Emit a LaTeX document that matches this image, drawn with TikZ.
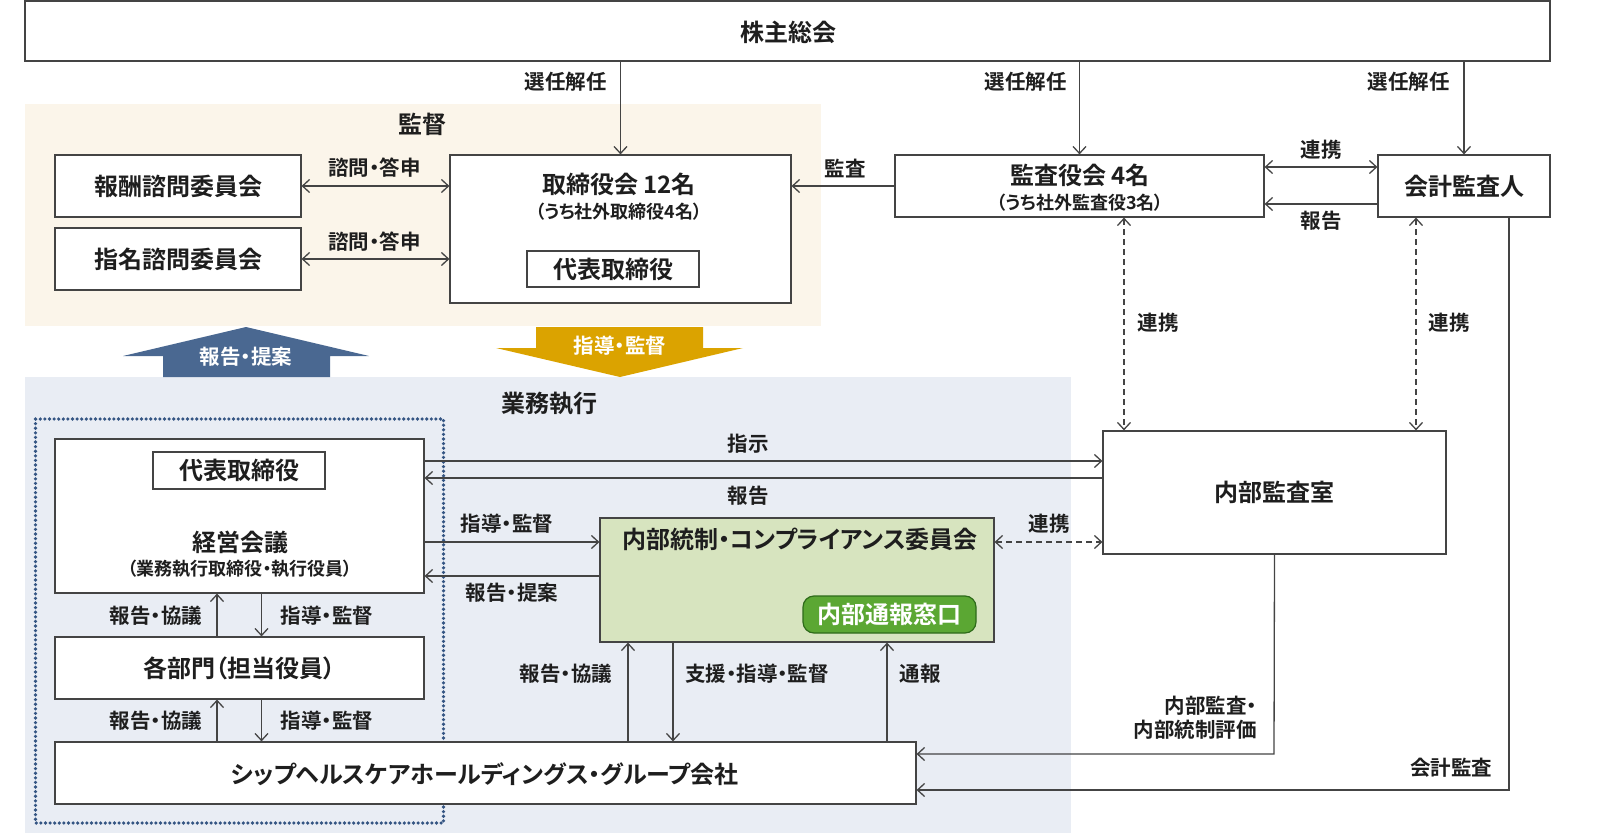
\documentclass[tikz,border=0pt]{standalone}
\usepackage{fontspec}
\setmainfont{Noto Sans CJK JP}[BoldFont={Noto Sans CJK JP Bold},RawFeature=+palt]
\usetikzlibrary{arrows.meta,calc}
\definecolor{beige}{HTML}{FBF5EA}
\definecolor{bluegray}{HTML}{E9EDF4}
\definecolor{greenfill}{HTML}{D7E4BF}
\definecolor{greenbtn}{HTML}{5BA733}
\definecolor{greendark}{HTML}{2E6B1A}
\definecolor{dotblue}{HTML}{345583}
\definecolor{arrblue}{HTML}{4A6891}
\definecolor{arrgold}{HTML}{DBA300}
\definecolor{txt}{HTML}{1E1E1E}
\definecolor{ln}{HTML}{444444}
\newcommand\fbig{\fontsize{24}{28}\selectfont\bfseries}
\newcommand\flab{\fontsize{20.5}{24}\selectfont\bfseries}
\newcommand\fsub{\fontsize{18}{21}\selectfont\bfseries}
\tikzset{
  >={Straight Barb[length=7pt,width=13pt]},
  box/.style={draw=ln, line width=1.2pt, fill=white, inner sep=0pt},
  conn/.style={draw=ln, line width=1.3pt},
  dconn/.style={conn, dash pattern=on 6pt off 4pt},
  big/.style={font=\fbig, text=txt, inner sep=0pt},
  lab/.style={font=\flab, text=txt, inner sep=0pt},
  sub/.style={font=\fsub, text=txt, inner sep=0pt},
}
\begin{document}
\begin{tikzpicture}[x=1pt,y=-1pt]
\useasboundingbox (0,0) rectangle (1600,837);
% regions
\fill[beige] (25,104) rectangle (821,326);
\fill[bluegray] (25,377) rectangle (1071,833);
\node[big] (lkantoku) at (422,124) {監督};
\node[big] (lgyomu) at (549,404) {業務執行};
\draw[dotblue, line width=3.6pt, dash pattern=on 0pt off 4.6pt, line cap=round] (35.5,419) rectangle (443.5,823);
% boxes
\node[box, minimum width=1525pt, minimum height=60pt] (sh) at (787.5,31) {};
\node[big] (lsh) at (788,32) {株主総会};
\node[box, minimum width=246pt, minimum height=62pt, font=\fbig, text=txt] (hoshu) at (178,186) {報酬諮問委員会};
\node[box, minimum width=246pt, minimum height=62pt, font=\fbig, text=txt] (shimei) at (178,259) {指名諮問委員会};
\node[box, minimum width=341pt, minimum height=148pt] (tori) at (620.5,229) {};
\node[big] (ltori) at (619,184) {取締役会 12名};
\node[sub] (ltori2) at (619,212) {（うち社外取締役4名）};
\node[box, minimum width=172pt, minimum height=36pt, font=\fbig, text=txt] (daihyo1) at (613,269) {代表取締役};
\node[box, minimum width=369pt, minimum height=62pt] (kansa) at (1079.5,186) {};
\node[big] (lkansa) at (1080,175) {監査役会 4名};
\node[sub] (lkansa2) at (1080,203) {（うち社外監査役3名）};
\node[box, minimum width=172pt, minimum height=62pt, font=\fbig, text=txt] (kaikei) at (1464,186) {会計監査人};
\node[box, minimum width=369pt, minimum height=154pt] (keiei) at (239.5,516) {};
\node[box, minimum width=172pt, minimum height=37pt, font=\fbig, text=txt] (daihyo2) at (239,470.5) {代表取締役};
\node[big] (lkeiei) at (240,542) {経営会議};
\node[sub] (lkeiei2) at (240,569) {（業務執行取締役・執行役員）};
\node[box, minimum width=369pt, minimum height=62pt, font=\fbig, text=txt] (kakubu) at (239.5,668) {各部門（担当役員）};
\node[box, minimum width=861pt, minimum height=62pt] (group) at (485.5,773) {};
\node[big] (lgroup) at (485,774) {シップヘルスケアホールディングス・グループ会社};
\node[box, fill=greenfill, minimum width=394pt, minimum height=124pt] (comp) at (797,580) {};
\node[big] (lcomp) at (800,539) {内部統制・コンプライアンス委員会};
\node[draw=greendark, line width=1.2pt, fill=greenbtn, rounded corners=11pt, minimum width=173pt, minimum height=37pt, inner sep=0pt, font=\fbig, text=white] (tsuho) at (889.5,614.5) {内部通報窓口};
\node[box, minimum width=343pt, minimum height=123pt, font=\fbig, text=txt] (naibu) at (1274.5,492.5) {内部監査室};
% block arrows
\fill[arrblue] (246,327) -- (369,356) -- (330,356) -- (330,377) -- (163,377) -- (163,356) -- (123,356) -- cycle;
\node[lab, text=white] (lbarr) at (246,357) {報告・提案};
\fill[arrgold] (536,327) -- (703,327) -- (703,348) -- (743,348) -- (620,377) -- (496,348) -- (536,348) -- cycle;
\node[lab, text=white] (lgarr) at (620,346) {指導・監督};
% top connectors
\draw[conn,->] (tori.north |- sh.south) -- (tori.north);
\draw[conn,->] (kansa.north |- sh.south) -- (kansa.north);
\draw[conn,->] (kaikei.north |- sh.south) -- (kaikei.north);
\node[lab, anchor=east] (ls1) at (607,82) {選任解任};
\node[lab, anchor=east] (ls2) at (1067,82) {選任解任};
\node[lab, anchor=east] (ls3) at (1450,82) {選任解任};
\draw[conn,<->] (hoshu.east) -- (tori.west |- hoshu.east);
\draw[conn,<->] (shimei.east) -- (tori.west |- shimei.east);
\node[lab] (lsh1) at (374.5,168) {諮問・答申};
\node[lab] (lsh2) at (374.5,242) {諮問・答申};
\draw[conn,->] (kansa.west) -- (tori.east |- kansa.west);
\node[lab] (lkansa3) at (845,169) {監査};
\draw[conn,<->] (kansa.east |- 0,167) -- (kaikei.west |- 0,167);
\node[lab] (lrenkei1) at (1321,150) {連携};
\draw[conn,->] (kaikei.west |- 0,204) -- (kansa.east |- 0,204);
\node[lab] (lhoukoku1) at (1321,221) {報告};
\draw[dconn,<->] (kansa.south -| 1124,0) -- (naibu.north -| 1124,0);
\draw[dconn,<->] (kaikei.south -| 1416,0) -- (naibu.north -| 1416,0);
\node[lab] (lrenkei2) at (1158,323) {連携};
\node[lab] (lrenkei3) at (1449,323) {連携};
% middle connectors
\draw[conn,->] (keiei.east |- 0,461) -- (naibu.west |- 0,461);
\draw[conn,->] (naibu.west |- 0,478) -- (keiei.east |- 0,478);
\node[lab] (lshiji) at (748,444) {指示};
\node[lab] (lhoukoku2) at (748,496) {報告};
\draw[conn,->] (keiei.east |- 0,542) -- (comp.west |- 0,542);
\draw[conn,->] (comp.west |- 0,576) -- (keiei.east |- 0,576);
\node[lab] (lshido1) at (507,524) {指導・監督};
\node[lab] (lteian1) at (512,593) {報告・提案};
\draw[dconn,<->] (comp.east |- 0,542) -- (naibu.west |- 0,542);
\node[lab] (lrenkei4) at (1049,524) {連携};
% left vertical
\draw[conn,->] (kakubu.north -| 217,0) -- (keiei.south -| 217,0);
\draw[conn,->] (keiei.south -| 261.5,0) -- (kakubu.north -| 261.5,0);
\node[lab] (lk1) at (156,616) {報告・協議};
\node[lab] (lk2) at (327,616) {指導・監督};
\draw[conn,->] (group.north -| 217,0) -- (kakubu.south -| 217,0);
\draw[conn,->] (kakubu.south -| 261.5,0) -- (group.north -| 261.5,0);
\node[lab] (lk3) at (156,721) {報告・協議};
\node[lab] (lk4) at (327,721) {指導・監督};
% comp verticals
\draw[conn,->] (group.north -| 628,0) -- (comp.south -| 628,0);
\draw[conn,->] (comp.south -| 673,0) -- (group.north -| 673,0);
\draw[conn,->] (group.north -| 887,0) -- (comp.south -| 887,0);
\node[lab] (lk5) at (566,674) {報告・協議};
\node[lab] (lk6) at (757,674) {支援・指導・監督};
\node[lab] (lk7) at (920,674) {通報};
% audit lines
\coordinate (c1) at (1274,754);
\draw[conn,->] (naibu.south) -- (c1) -- (group.east |- c1);
\node[lab, anchor=east, align=right] (lnaibu) at (1257,718) {内部監査・\\内部統制評価};
\coordinate (c2) at (1509,790);
\draw[conn,->] (kaikei.south -| c2) -- (c2) -- (group.east |- c2);
\node[lab] (lkaikei) at (1451,768) {会計監査};
\end{tikzpicture}
\end{document}
